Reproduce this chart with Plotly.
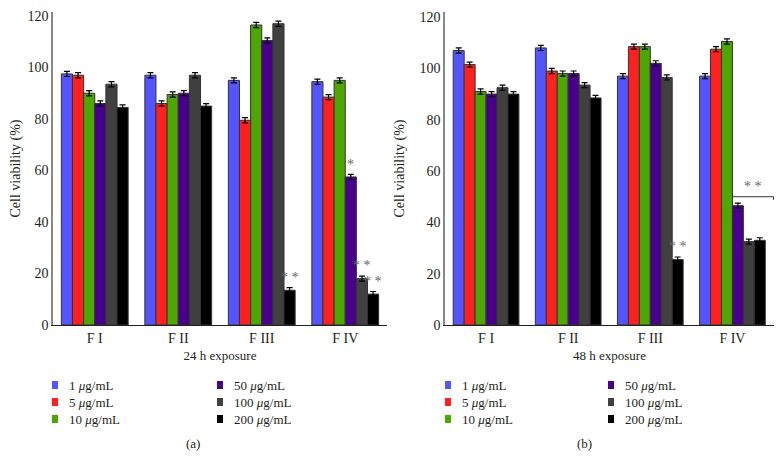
import plotly.graph_objects as go

categories = ["F I", "F II", "F III", "F IV"]
doses = ["1", "5", "10", "50", "100", "200"]
colors = ["#5555FF", "#FF2020", "#4EA600", "#48008C", "#404040", "#000000"]

# 24 h exposure, one list per dose (values for F I..F IV)
v24_1 = [97.5, 97, 95, 94.5]
v24_5 = [97, 86, 79.5, 88.5]
v24_10 = [90, 89.5, 116.5, 95]
v24_50 = [86, 90, 110.5, 57.5]
v24_100 = [93.5, 97, 117, 18]
v24_200 = [84.5, 85, 13.5, 12]

# 48 h exposure
v48_1 = [107, 108, 97, 97]
v48_5 = [101.5, 99, 108.5, 107.5]
v48_10 = [91, 98, 108.5, 110.5]
v48_50 = [90, 98, 102, 46.5]
v48_100 = [92.5, 93.5, 96.5, 32.5]
v48_200 = [90, 88.5, 25.5, 33]

err24 = [1.0, 1.0, 1.0, 1.0]
err48 = [1.0, 1.0, 1.0, 1.0]

vals24 = [v24_1, v24_5, v24_10, v24_50, v24_100, v24_200]
vals48 = [v48_1, v48_5, v48_10, v48_50, v48_100, v48_200]

FONT = "Liberation Serif, Times New Roman, serif"
TXT = "#231f20"

# page has an 8px body margin; size the figure to fill the 782x469 viewport
OFF = 8
W, H = 782 - OFF, 469 - OFF
def px_x(p):
    return (p - OFF) / W
def px_y(p):
    return 1 - (p - OFF) / H

fig = go.Figure()
for i, d in enumerate(doses):
    fig.add_trace(go.Bar(
        x=categories, y=vals24[i], name=f"{d} <i>μ</i>g/mL", showlegend=False,
        marker=dict(color=colors[i], line=dict(color="#333333", width=1)),
        error_y=dict(type="data", array=err24, color="#000000", thickness=1.2, width=3),
        xaxis="x", yaxis="y"))
for i, d in enumerate(doses):
    fig.add_trace(go.Bar(
        x=categories, y=vals48[i], name=f"{d} <i>μ</i>g/mL", showlegend=False,
        marker=dict(color=colors[i], line=dict(color="#333333", width=1)),
        error_y=dict(type="data", array=err48, color="#000000", thickness=1.2, width=3),
        xaxis="x2", yaxis="y2"))

bar_w = 0.8 / 6
def bar_center(cat, k):
    return cat - 0.4 + (k + 0.5) * bar_w

star_font = dict(family=FONT, size=14, color="#666666")
ann = []
# left chart asterisks
for (cat, k, txt, src) in [(2, 5, "* *", v24_200), (3, 3, "*", v24_50), (3, 4, "* *", v24_100), (3, 5, "* *", v24_200)]:
    ann.append(dict(x=bar_center(cat, k), y=src[cat] + err24[cat] + 0.3, xref="x", yref="y",
                    text=txt, showarrow=False, yanchor="bottom", font=star_font))
# right chart asterisks
ann.append(dict(x=bar_center(2, 5), y=v48_200[2] + err48[2] + 0.3, xref="x2", yref="y2",
                text="* *", showarrow=False, yanchor="bottom", font=star_font))
ann.append(dict(x=3.25, y=50.3, xref="x2", yref="y2", text="* *", showarrow=False,
                yanchor="bottom", font=star_font))
# panel labels
ann.append(dict(x=px_x(193), y=px_y(443), xref="paper", yref="paper", text="(a)", showarrow=False,
                xanchor="center", yanchor="middle", font=dict(family=FONT, size=13, color=TXT)))
ann.append(dict(x=px_x(584), y=px_y(443), xref="paper", yref="paper", text="(b)", showarrow=False,
                xanchor="center", yanchor="middle", font=dict(family=FONT, size=13, color=TXT)))

shapes = [
    dict(type="line", xref="x2", yref="y2", x0=3.0, x1=3.5, y0=50, y1=50, line=dict(color="#333333", width=1)),
    dict(type="line", xref="x2", yref="y2", x0=3.5, x1=3.5, y0=50, y1=48.8, line=dict(color="#333333", width=1)),
]

# legend swatches + labels (two panels, two columns each, three rows)
leg_rows = [385, 402, 419]
leg_cols = {"a": [(55, 67), (220, 232)], "b": [(448, 460), (611, 623)]}
for panel in ["a", "b"]:
    for i, d in enumerate(doses):
        sq_x, tx_x = leg_cols[panel][i // 3]
        ry = leg_rows[i % 3]
        shapes.append(dict(type="rect", xref="paper", yref="paper",
                           x0=px_x(sq_x - 3), x1=px_x(sq_x + 3), y0=px_y(ry + 4), y1=px_y(ry - 4),
                           fillcolor=colors[i], line=dict(width=0)))
        ann.append(dict(x=px_x(tx_x), y=px_y(ry), xref="paper", yref="paper",
                        text=f"{d} <i>μ</i>g/mL", showarrow=False, xanchor="left", yanchor="middle",
                        font=dict(family=FONT, size=13, color=TXT)))

axis_font = dict(family=FONT, size=13, color=TXT)
xcommon = dict(showline=True, linecolor="#222222", linewidth=1, ticks="", showgrid=False,
               tickfont=dict(family=FONT, size=14, color=TXT), zeroline=False, automargin=False)
ycommon = dict(showline=True, linecolor="#888888", linewidth=1.5, ticks="", showgrid=False,
               tickfont=dict(family=FONT, size=14, color=TXT), zeroline=False, automargin=False,
               ticklabeloverflow="allow",
               tickvals=[0, 20, 40, 60, 80, 100, 120],
               title=dict(text="Cell viability (%)", font=dict(family=FONT, size=14, color=TXT), standoff=12))

fig.update_layout(
    width=W, height=H, margin=dict(l=0, r=0, t=0, b=0, autoexpand=False),
    paper_bgcolor="white", plot_bgcolor="white",
    barmode="group", bargap=0.2, bargroupgap=0,
    font=dict(family=FONT, color=TXT),
    xaxis=dict(domain=[px_x(53), px_x(387)], anchor="y",
               title=dict(text="24 h exposure", font=axis_font, standoff=6), **xcommon),
    yaxis=dict(domain=[px_y(325), px_y(12)], anchor="x", range=[0, 121.55], **ycommon),
    xaxis2=dict(domain=[px_x(445), px_x(774)], anchor="y2",
                title=dict(text="48 h exposure", font=axis_font, standoff=6), **xcommon),
    yaxis2=dict(domain=[px_y(325), px_y(12)], anchor="x2", range=[0, 122], **ycommon),
    annotations=ann, shapes=shapes,
)

fig.write_html("out.html")
